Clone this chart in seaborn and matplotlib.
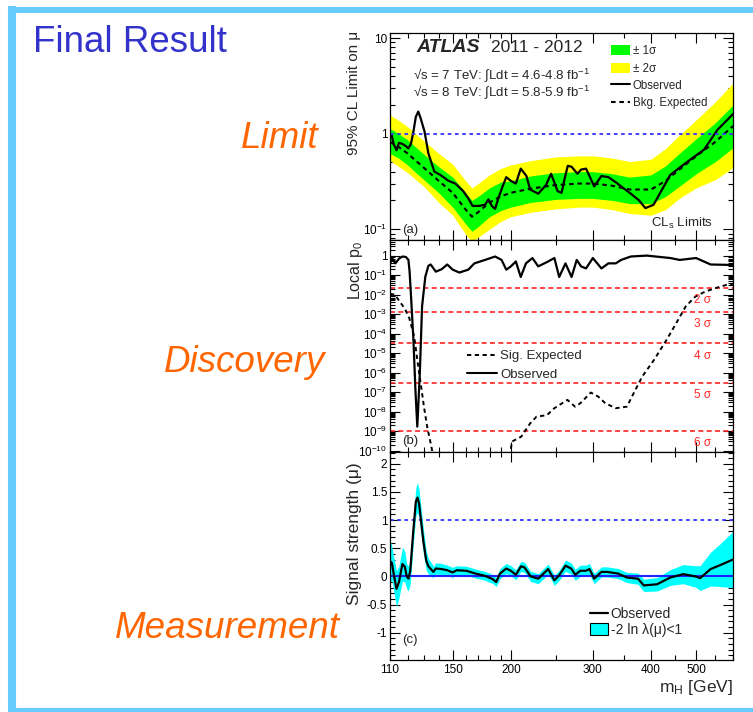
import numpy as np
import pandas as pd
import matplotlib
matplotlib.use("Agg")
import matplotlib.pyplot as plt
import seaborn as sns
from matplotlib.ticker import FixedLocator, FuncFormatter, NullFormatter, LogLocator, MultipleLocator
from matplotlib.patches import Patch
from matplotlib.lines import Line2D

# ---------------- data ----------------
# Panel (a): 95% CL limit on mu
mass_band = [110, 115, 120, 125, 130, 140, 150, 160, 165, 170, 180, 190, 200, 220, 250,
             280, 300, 330, 360, 400, 430, 460, 500, 550, 600]
exp_limit = [0.82, 0.72, 0.62, 0.52, 0.44, 0.32, 0.24, 0.16, 0.135, 0.15, 0.19, 0.22, 0.24,
             0.265, 0.29, 0.30, 0.30, 0.285, 0.26, 0.26, 0.32, 0.42, 0.58, 0.82, 1.2]
green_lo = [0.62, 0.55, 0.47, 0.39, 0.33, 0.24, 0.17, 0.113, 0.095, 0.106, 0.135, 0.156, 0.17,
            0.19, 0.205, 0.21, 0.21, 0.20, 0.185, 0.185, 0.22, 0.28, 0.38, 0.51, 0.71]
green_hi = [1.13, 0.99, 0.86, 0.72, 0.61, 0.45, 0.35, 0.24, 0.20, 0.22, 0.27, 0.31, 0.32,
            0.36, 0.39, 0.40, 0.40, 0.38, 0.35, 0.37, 0.46, 0.62, 0.88, 1.30, 1.99]
yellow_lo = [0.52, 0.45, 0.39, 0.33, 0.28, 0.19, 0.14, 0.088, 0.074, 0.082, 0.10, 0.12, 0.135,
             0.15, 0.163, 0.17, 0.17, 0.16, 0.146, 0.14, 0.16, 0.21, 0.27, 0.33, 0.44]
yellow_hi = [1.56, 1.37, 1.18, 0.99, 0.84, 0.62, 0.48, 0.32, 0.27, 0.30, 0.37, 0.43, 0.47,
             0.52, 0.57, 0.585, 0.585, 0.555, 0.51, 0.54, 0.70, 0.96, 1.39, 2.15, 3.38]

mass_obs_a = [110, 111, 112, 113.6, 115, 117, 119, 120.4, 122, 123.5, 125, 126.5, 128, 130.5,
              133, 137, 141, 147, 152, 158, 162, 165.5, 170.7, 176, 179, 182, 185, 188, 192,
              195.5, 200, 205, 210, 216, 220, 229, 238, 244, 252, 257, 261, 265, 270, 278,
              283, 290, 295, 302, 313, 324, 336, 345, 362, 377, 389, 405, 440, 477, 520, 556, 600]
obs_limit = [1.0, 0.95, 0.78, 0.67, 0.80, 0.78, 0.74, 0.70, 0.78, 1.05, 1.5, 1.7, 1.45, 1.05,
             0.62, 0.40, 0.37, 0.32, 0.30, 0.25, 0.21, 0.175, 0.175, 0.18, 0.205, 0.175, 0.163,
             0.21, 0.28, 0.35, 0.32, 0.30, 0.43, 0.36, 0.26, 0.235, 0.29, 0.38, 0.25, 0.24,
             0.34, 0.46, 0.45, 0.38, 0.42, 0.43, 0.36, 0.28, 0.36, 0.35, 0.31, 0.28, 0.235,
             0.20, 0.166, 0.18, 0.37, 0.50, 0.68, 1.1, 1.6]

# Panel (b): local p0
mass_obs_b = [110, 111, 112, 113, 115, 117, 119, 120.5, 121.2, 122.2, 123.5, 124.8, 125.9,
              127.5, 128.9, 131, 133, 134.5, 138, 142, 146, 150, 155, 162, 167, 176, 185, 191,
              195.5, 200, 205, 210, 215.5, 222.5, 229, 240.5, 248, 254, 262, 270, 277, 283,
              290, 300, 313, 324, 336, 345, 362, 392, 440, 461, 500, 537, 600]
obs_p0 = [0.35, 0.8, 0.55, 0.4, 0.7, 0.9, 0.85, 0.6, 0.15, 5e-3, 5e-5, 1e-7, 1.7e-9,
          1e-6, 2.5e-3, 0.083, 0.3, 0.35, 0.15, 0.2, 0.35, 0.19, 0.135, 0.19, 0.4, 0.6, 0.9,
          0.6, 0.19, 0.28, 0.5, 0.08, 0.4, 0.75, 0.28, 0.5, 0.75, 0.08, 0.4, 0.08, 0.6, 0.28,
          0.22, 0.75, 0.22, 0.4, 0.4, 0.6, 0.9, 1.0, 0.75, 0.6, 0.75, 0.35, 0.33]
mass_exp_b_low = [110, 112.7, 115.4, 118.2, 121, 124, 125.9, 128, 130.1, 132.2, 134.5, 136.3]
exp_p0_low = [1.1e-2, 1e-2, 4.4e-3, 2e-3, 6.3e-4, 7e-5, 4.5e-6, 2.9e-7, 1.8e-8, 1.7e-9,
              2.4e-10, 5e-11]
mass_exp_b_high = [199, 201, 210.5, 220, 227, 239, 248, 264.5, 274.7, 282, 297, 308, 319,
                   336, 355, 367, 383, 406, 432, 453, 475, 498, 522, 548, 582, 600]
exp_p0_high = [5e-11, 2.9e-10, 5.2e-10, 2.5e-9, 5.5e-9, 6.6e-9, 1.5e-8, 4e-8, 1.8e-8,
               2.7e-8, 9.5e-8, 5.9e-8, 2.7e-8, 1.5e-8, 1.8e-8, 8.7e-8, 6.3e-7, 4.5e-6,
               4.8e-5, 3.4e-4, 2.5e-3, 7.9e-3, 1.4e-2, 2.1e-2, 3.2e-2, 3.6e-2]
sig_levels = [2.28e-2, 1.35e-3, 3.17e-5, 2.87e-7, 9.87e-10]
sig_labels = ["2 σ", "3 σ", "4 σ", "5 σ", "6 σ"]

# Panel (c): signal strength
mass_mu = [110, 111, 112, 113.6, 115, 116.2, 117, 118.4, 119.5, 120.5, 121.6, 123.3, 125,
           126, 127, 128, 129.8, 131.6, 133, 135, 136.3, 138, 142, 146, 150, 153, 160.5,
           168, 176, 183, 186, 189.5, 195.5, 200, 205, 210.3, 214, 220.5, 229, 240.5, 248,
           254, 262, 269.5, 275, 282, 290, 295, 302, 313, 322, 340, 355, 375, 386, 412, 440,
           469, 498, 510, 537, 563, 600]
mu_obs = [0.27, 0.24, 0.05, -0.22, -0.1, 0.1, 0.22, 0.17, 0.0, -0.04, 0.1, 0.76, 1.33,
          1.40, 1.3, 1.05, 0.61, 0.28, 0.18, 0.12, 0.08, 0.14, 0.13, 0.11, 0.07, 0.11, 0.1,
          0.05, 0.01, -0.05, -0.1, 0.05, 0.14, 0.1, 0.03, 0.18, 0.16, 0.0, -0.04, 0.13,
          -0.07, 0.02, 0.19, 0.14, 0.03, 0.1, 0.1, 0.13, -0.04, 0.08, 0.08, 0.05, -0.02,
          -0.04, -0.16, -0.14, -0.02, 0.04, 0.0, -0.03, 0.13, 0.2, 0.3]
mu_err = [0.38, 0.3, 0.3, 0.32, 0.28, 0.3, 0.3, 0.27, 0.22, 0.22, 0.22, 0.24, 0.25, 0.26,
          0.25, 0.24, 0.22, 0.17, 0.14, 0.12, 0.1, 0.1, 0.1, 0.09, 0.09, 0.08, 0.08, 0.08,
          0.08, 0.08, 0.08, 0.09, 0.09, 0.09, 0.09, 0.09, 0.09, 0.09, 0.09, 0.09, 0.09, 0.09,
          0.1, 0.1, 0.1, 0.1, 0.1, 0.1, 0.09, 0.09, 0.09, 0.09, 0.09, 0.1, 0.11, 0.12, 0.14,
          0.17, 0.19, 0.22, 0.3, 0.38, 0.5]

x_major = [110, 150, 200, 300, 400, 500]
x_minor = [120, 130, 140, 160, 170, 180, 190, 250, 350, 450, 550, 600]

# ---------------- style ----------------
sns.set_theme(style="ticks")
plt.rcParams["font.family"] = ["Liberation Sans", "DejaVu Sans"]
plt.rcParams["mathtext.fontset"] = "custom"
plt.rcParams["mathtext.rm"] = "Liberation Sans"
plt.rcParams["mathtext.it"] = "Liberation Sans:italic"
plt.rcParams["mathtext.bf"] = "Liberation Sans:bold"
plt.rcParams["axes.unicode_minus"] = False

W, H = 753, 712
fig = plt.figure(figsize=(W / 100, H / 100), dpi=100)
fig.patch.set_facecolor("white")


def rect(x0, y0, x1, y1):
    return [x0 / W, 1 - y1 / H, (x1 - x0) / W, (y1 - y0) / H]


axA = fig.add_axes(rect(390, 33, 733, 240))
axB = fig.add_axes(rect(390, 240, 733, 452))
axC = fig.add_axes(rect(390, 452, 733, 660))

BLUE = "#3333FF"
RED = "#FF2525"

for ax in (axA, axB, axC):
    ax.set_facecolor("white")
    ax.set_xscale("log")
    ax.set_xlim(110, 600)
    for s in ax.spines.values():
        s.set_linewidth(0.9)
        s.set_color("black")
    ax.xaxis.set_major_locator(FixedLocator(x_major))
    ax.xaxis.set_minor_locator(FixedLocator(x_minor))
    ax.xaxis.set_minor_formatter(NullFormatter())
    ax.tick_params(which="both", direction="in", top=True, right=True, colors="black",
                   labelsize=8.5, width=0.8)
    ax.tick_params(which="major", length=7)
    ax.tick_params(which="minor", length=3.5)
    ax.tick_params(axis="y", pad=2)

# ---------------- panel (a) ----------------
axA.set_yscale("log")
axA.set_ylim(0.077, 11.3)
axA.fill_between(mass_band, yellow_lo, yellow_hi, color="#FFFF00", lw=0)
axA.fill_between(mass_band, green_lo, green_hi, color="#00FF00", lw=0)
dfA = pd.DataFrame({"m": mass_band, "exp": exp_limit})
dfAo = pd.DataFrame({"m": mass_obs_a, "obs": obs_limit})
sns.lineplot(data=dfA, x="m", y="exp", ax=axA, color="black", lw=1.5,
             linestyle=(0, (2.2, 1.8)), sort=False, estimator=None, legend=False)
sns.lineplot(data=dfAo, x="m", y="obs", ax=axA, color="black", lw=1.6,
             sort=False, estimator=None, legend=False)
axA.axhline(1, color=BLUE, lw=1.3, ls=(0, (2, 2)))
axA.yaxis.set_major_locator(FixedLocator([0.1, 1, 10]))
axA.yaxis.set_minor_locator(LogLocator(base=10, subs=np.arange(2, 10), numticks=20))
axA.yaxis.set_minor_formatter(NullFormatter())
axA.yaxis.set_major_formatter(FuncFormatter(
    lambda v, p: {0.1: r"$10^{-1}$", 1: "1", 10: "10"}.get(round(v, 3), "")))
axA.xaxis.set_major_formatter(NullFormatter())
axA.set_xlabel("")
axA.set_ylabel("95% CL Limit on μ", fontsize=11, loc="top")
axA.yaxis.set_label_coords(-0.085, 1.01)

handlesA = [Patch(facecolor="#00FF00", edgecolor="none"),
            Patch(facecolor="#FFFF00", edgecolor="none"),
            Line2D([], [], color="black", lw=1.5),
            Line2D([], [], color="black", lw=1.5, ls=(0, (2.2, 1.8)))]
axA.legend(handlesA, ["± 1σ", "± 2σ", "Observed", "Bkg. Expected"], loc="upper left",
           bbox_to_anchor=(0.644, 0.94), frameon=False, fontsize=8.3, handlelength=1.65,
           handleheight=0.95, handletextpad=0.25, labelspacing=0.45, borderpad=0,
           borderaxespad=0)
axA.text(0.078, 0.928, "ATLAS", transform=axA.transAxes, fontsize=14, fontweight="bold",
         fontstyle="italic", va="center", ha="left")
axA.text(0.294, 0.928, "2011 - 2012", transform=axA.transAxes, fontsize=12.5,
         va="center", ha="left")
axA.text(0.067, 0.797, "√s = 7 TeV: ∫Ldt = 4.6-4.8 fb$^{-1}$", transform=axA.transAxes,
         fontsize=9.5, va="center", ha="left")
axA.text(0.067, 0.716, "√s = 8 TeV: ∫Ldt = 5.8-5.9 fb$^{-1}$", transform=axA.transAxes,
         fontsize=9.5, va="center", ha="left")
axA.text(0.035, 0.05, "(a)", transform=axA.transAxes, fontsize=9.5, va="center", ha="left")
axA.text(0.942, 0.08, r"CL$_{\rm s}$ Limits", transform=axA.transAxes, fontsize=9.5,
         va="center", ha="right")

# ---------------- panel (b) ----------------
axB.set_yscale("log")
axB.set_ylim(10 ** -10.07, 10 ** 0.8)
for lvl, lab in zip(sig_levels, sig_labels):
    axB.axhline(lvl, color=RED, lw=1.2, ls=(0, (3, 2)))
    axB.annotate(lab, xy=(0.91, lvl), xycoords=("axes fraction", "data"), xytext=(0, -4.5),
                 textcoords="offset points", ha="center", va="top", fontsize=8.5, color=RED)
dfBo = pd.DataFrame({"m": mass_obs_b, "p": obs_p0})
dfBl = pd.DataFrame({"m": mass_exp_b_low, "p": exp_p0_low})
dfBh = pd.DataFrame({"m": mass_exp_b_high, "p": exp_p0_high})
for d in (dfBl, dfBh):
    sns.lineplot(data=d, x="m", y="p", ax=axB, color="black", lw=1.4,
                 linestyle=(0, (2.2, 1.8)), sort=False, estimator=None, legend=False)
sns.lineplot(data=dfBo, x="m", y="p", ax=axB, color="black", lw=1.6,
             sort=False, estimator=None, legend=False)
axB.yaxis.set_major_locator(FixedLocator([10.0 ** k for k in range(-10, 1)]))
axB.yaxis.set_minor_locator(LogLocator(base=10, subs=np.arange(2, 10), numticks=30))
axB.yaxis.set_minor_formatter(NullFormatter())
axB.yaxis.set_major_formatter(FuncFormatter(
    lambda v, p: "1" if abs(np.log10(v)) < 0.01 else r"$10^{%d}$" % round(np.log10(v))))
axB.xaxis.set_major_formatter(NullFormatter())
axB.set_xlabel("")
axB.set_ylabel(r"Local p$_{0}$", fontsize=11.5, loc="top")
axB.yaxis.set_label_coords(-0.073, 1.0)
handlesB = [Line2D([], [], color="black", lw=1.4, ls=(0, (2.2, 1.8))),
            Line2D([], [], color="black", lw=1.5)]
axB.legend(handlesB, ["Sig. Expected", "Observed"], loc="upper left",
           bbox_to_anchor=(0.2245, 0.48), frameon=False, fontsize=9.5, handlelength=2.3,
           handletextpad=0.2, labelspacing=0.45, borderpad=0, borderaxespad=0)
axB.text(0.035, 0.05, "(b)", transform=axB.transAxes, fontsize=9.5, va="center", ha="left")

# ---------------- panel (c) ----------------
axC.set_ylim(-1.485, 2.21)
mu_lo = [m - e for m, e in zip(mu_obs, mu_err)]
mu_hi = [m + e for m, e in zip(mu_obs, mu_err)]
axC.fill_between(mass_mu, mu_lo, mu_hi, color="#00FFFF", lw=0)
axC.axhline(0, color="#2222FF", lw=1.5)
axC.axhline(1, color=BLUE, lw=1.3, ls=(0, (2, 2)))
dfC = pd.DataFrame({"m": mass_mu, "mu": mu_obs})
sns.lineplot(data=dfC, x="m", y="mu", ax=axC, color="black", lw=1.6,
             sort=False, estimator=None, legend=False)
axC.yaxis.set_major_locator(MultipleLocator(0.5))
axC.yaxis.set_minor_locator(MultipleLocator(0.1))
axC.yaxis.set_major_formatter(FuncFormatter(lambda v, p: "%g" % round(v, 2)))
axC.xaxis.set_major_formatter(FuncFormatter(lambda v, p: "%d" % round(v)))
axC.tick_params(axis="x", pad=3)
axC.set_ylabel("Signal strength (μ)", fontsize=12.5, loc="top")
axC.yaxis.set_label_coords(-0.083, 0.95)
axC.set_xlabel(r"m$_{\rm H}$ [GeV]", fontsize=12.5, loc="right")
axC.xaxis.set_label_coords(1.0, -0.085)
axC.xaxis.label.set_va("top")
handlesC = [Line2D([], [], color="black", lw=1.6),
            Patch(facecolor="#00FFFF", edgecolor="black", lw=0.8)]
axC.legend(handlesC, ["Observed", "-2 ln λ(μ)<1"], loc="upper left",
           bbox_to_anchor=(0.583, 0.255), frameon=False, fontsize=10, handlelength=1.3,
           handleheight=0.95, handletextpad=0.2, labelspacing=0.15, borderpad=0,
           borderaxespad=0)
axC.text(0.035, 0.096, "(c)", transform=axC.transAxes, fontsize=9.5, va="center", ha="left")

# ---------------- slide decorations ----------------
BORDER = "#66CCFF"
fig.add_artist(Line2D([12 / W, 12 / W], [1 - 6 / H, 1 - 711 / H], transform=fig.transFigure,
                      color=BORDER, lw=5.8, solid_capstyle="butt"))
fig.add_artist(Line2D([8 / W, 1.0], [1 - 10 / H, 1 - 10 / H], transform=fig.transFigure,
                      color=BORDER, lw=4.3, solid_capstyle="butt"))
fig.add_artist(Line2D([8 / W, 1.0], [1 - 710 / H, 1 - 710 / H], transform=fig.transFigure,
                      color=BORDER, lw=3.0, solid_capstyle="butt"))

fig.text(33 / W, 1 - 43 / H, "Final Result", fontsize=26.5, color="#3333CC",
         ha="left", va="center")
fig.text(318 / W, 1 - 139 / H, "Limit", fontsize=26.5, color="#FF6600", style="italic",
         ha="right", va="center")
fig.text(325 / W, 1 - 362 / H, "Discovery", fontsize=26.5, color="#FF6600", style="italic",
         ha="right", va="center")
fig.text(340 / W, 1 - 629 / H, "Measurement", fontsize=26.5, color="#FF6600",
         style="italic", ha="right", va="center")

fig.savefig("out.png", dpi=100, facecolor="white")
